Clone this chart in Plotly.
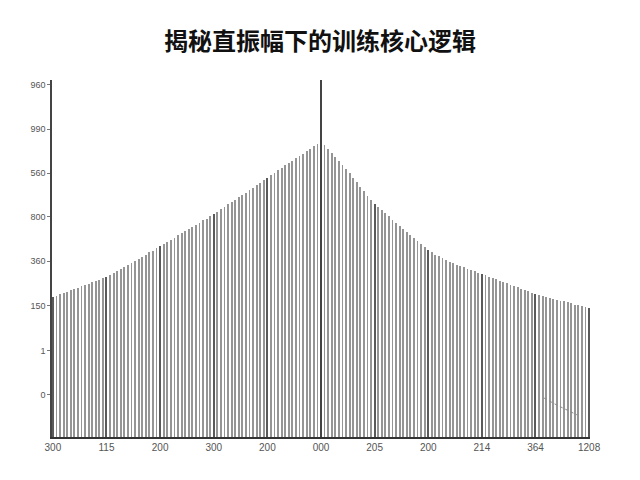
import plotly.graph_objects as go

# stem heights (axis units, 0 = bottom of the axis)
heights = [
    316, 319, 322, 325, 328, 331, 334, 337, 340, 343, 346, 349, 352, 355, 358,
    361, 365, 370, 375, 379, 384, 389, 393, 398, 403, 407, 412, 417, 421, 426,
    431, 436, 441, 445, 450, 455, 460, 465, 469, 474, 479, 484, 489, 493, 498,
    503, 508, 514, 519, 525, 530, 536, 541, 547, 552, 558, 563, 569, 574, 580,
    585, 591, 596, 602, 607, 613, 618, 624, 629, 635, 640, 646, 651, 657, 662,
    668, 660, 651, 641, 632, 623, 614, 604, 595, 585, 575, 565, 555, 545, 535,
    526, 519, 512, 505, 498, 491, 484, 477, 470, 463, 456, 449, 442, 436, 429,
    422, 417, 412, 408, 404, 400, 396, 392, 389, 386, 383, 380, 377, 374, 371,
    368, 365, 362, 359, 356, 353, 350, 347, 344, 341, 338, 335, 332, 329, 326,
    323, 321, 319, 317, 314, 312, 310, 308, 306, 304, 302, 299, 297, 295, 293,
    291,
]
stems = list(range(len(heights)))

# category ticks every 15 stems
x_tickvals = [0, 15, 30, 45, 60, 75, 90, 105, 120, 135, 150]
x_ticktext = ["300", "115", "200", "300", "200", "000", "205", "200", "214", "364", "1208"]

y_tickvals = [95, 195, 297, 397, 497, 596, 695, 795]
y_ticktext = ["0", "1", "150", "360", "800", "560", "990", "960"]

y_top = 806
center_stem = 75

# faint dashed stroke near the bottom right
mark_x = [137.4, 141.0, 146.6]
mark_y = [88, 72, 50]

major_x = [i for i in x_tickvals if i != center_stem]
major_heights = [heights[i] for i in major_x]

fig = go.Figure()

fig.add_trace(go.Bar(
    x=stems, y=heights, width=0.24,
    marker=dict(color="#959595", line=dict(width=0)),
    showlegend=False,
))

# tick stems are a bit darker
fig.add_trace(go.Bar(
    x=major_x, y=major_heights, width=0.32,
    marker=dict(color="#5a5a5a", line=dict(width=0)),
    showlegend=False,
))

# the centre stem runs to the top of the axis
fig.add_trace(go.Bar(
    x=[center_stem], y=[y_top], width=0.4,
    marker=dict(color="#444444", line=dict(width=0)),
    showlegend=False,
))

fig.add_trace(go.Scatter(
    x=mark_x, y=mark_y, mode="lines",
    line=dict(color="#8a8a8a", width=1, dash="dot"),
    showlegend=False,
))

fig.update_layout(
    width=640, height=480,
    margin=dict(l=44, r=58, t=72, b=51),
    paper_bgcolor="white", plot_bgcolor="white",
    barmode="overlay", bargap=0,
    title=dict(
        text="<b>揭秘直振幅下的训练核心逻辑</b>",
        x=0.4875, xanchor="center", y=0.93, yanchor="middle",
        font=dict(family="Noto Sans CJK SC", size=24, color="#111111"),
    ),
    xaxis=dict(
        range=[-0.25, 150.25],
        tickmode="array", tickvals=x_tickvals, ticktext=x_ticktext,
        showgrid=False, zeroline=False,
        showline=True, linecolor="#333333", linewidth=1.5,
        ticks="", tickfont=dict(family="Liberation Sans", size=10, color="#555555"),
    ),
    yaxis=dict(
        range=[0, y_top],
        tickmode="array", tickvals=y_tickvals, ticktext=y_ticktext,
        showgrid=False, zeroline=False,
        showline=True, linecolor="#444444", linewidth=1.5,
        ticks="outside", ticklen=3, tickcolor="#777777",
        tickfont=dict(family="Liberation Sans", size=9, color="#555555"),
    ),
)

fig.write_html("out.html")
